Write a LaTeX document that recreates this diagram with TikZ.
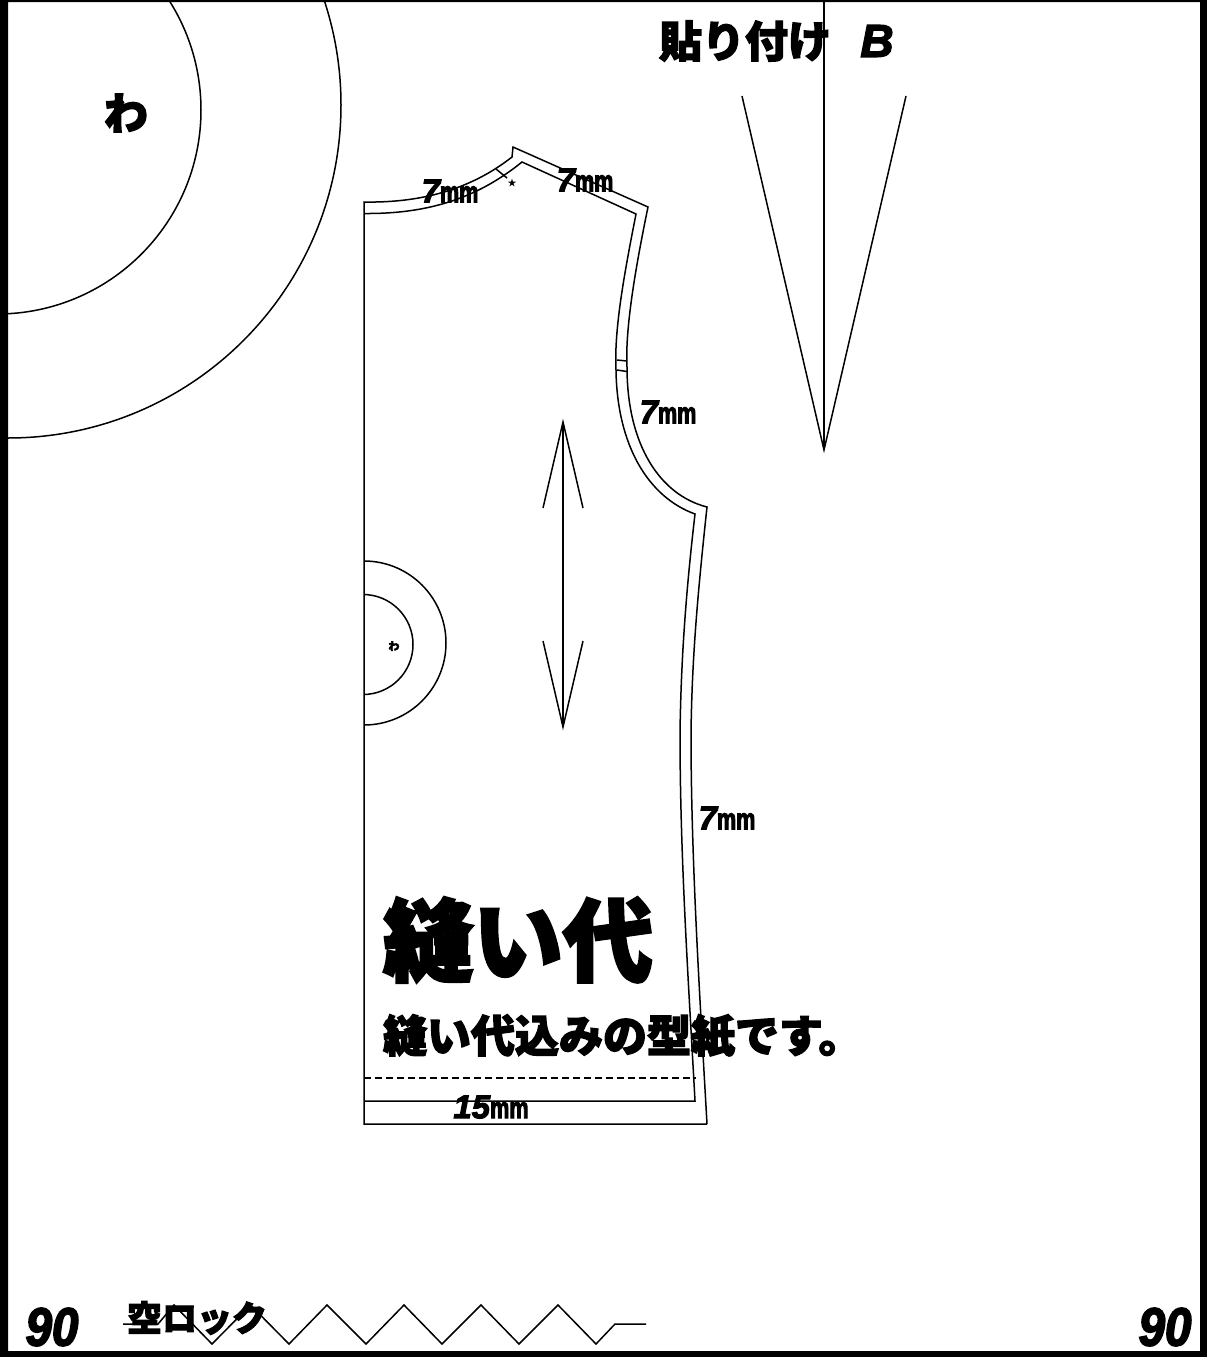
\documentclass[tikz,border=0pt]{standalone}
\usepackage{fontspec}
\newfontfamily\cjk[BoldFeatures={FakeBold=3}]{Noto Sans CJK JP}
\newfontfamily\cjkplain{Noto Sans CJK JP}
\newfontfamily\numfont[BoldItalicFeatures={FakeBold=3}]{Liberation Sans}
\newfontfamily\bigfont[BoldItalicFeatures={FakeBold=3,FakeStretch=0.88}]{Liberation Sans}
\newfontfamily\mmfont[BoldFeatures={FakeStretch=0.72,FakeBold=3}]{Liberation Sans}
\newcommand{\sevenmm}[1]{{\fontsize{33}{33}\selectfont\numfont\bfseries\itshape #1}{\fontsize{30}{30}\selectfont\mmfont\bfseries mm}}
\tikzset{
  cutline/.style={line width=1.5pt,line join=miter,black},
  labeltxt/.style={inner sep=0pt,outer sep=0pt,text=black},
  jp/.style={labeltxt,font=\cjk\bfseries}
}
\begin{document}
\begin{tikzpicture}[x=1pt,y=-1pt]
\useasboundingbox (0,0) rectangle (1207,1357);
\fill[white] (0,0) rectangle (1207,1357);
% large fold circles
\begin{scope}
\clip (8,0) rectangle (1200,1351);
\draw[cutline] (-3,110) circle[radius=204];
\draw[cutline] (8,105) circle[radius=333];
\end{scope}
% small fold circles
\begin{scope}
\clip (364,500) rectangle (500,800);
\draw[cutline] (364,643) circle[radius=82];
\draw[cutline] (363,644.5) circle[radius=50];
\end{scope}
% dart
\draw[cutline] (824,0) -- (824,450);
\draw[cutline] (742,96) -- (824,450) -- (906,96);
% grain arrow
\draw[cutline] (563,422) -- (563,727);
\draw[cutline] (543,508) -- (563,422) -- (583,508);
\draw[cutline] (543,641) -- (563,727) -- (583,641);
% pattern cut line
\draw[cutline] (707,1124) -- (364,1124) -- (364,202)
  .. controls (420,203) and (470,190) .. (512,157)
  -- (513,147) -- (648,207)
  .. controls (635,270) and (625,330) .. (627,367)
  .. controls (627,445) and (660,495) .. (707,507)
  .. controls (697,600) and (692,660) .. (691,733)
  .. controls (691,860) and (700,1000) .. (707,1124);
% pattern seam line
\draw[cutline] (364,213.5)
  .. controls (425,214) and (475,200) .. (522,162)
  -- (636,214)
  .. controls (624,275) and (614,330) .. (616,370)
  .. controls (617,445) and (648,497) .. (695,514)
  .. controls (685,600) and (681,665) .. (680,733)
  .. controls (680,860) and (689,990) .. (695,1101)
  -- (364,1101);
\draw[cutline,dash pattern=on 7pt off 4pt] (364,1078) -- (696,1078);
% notches
\draw[cutline] (496,169) -- (507,178);
\draw[cutline] (617,360) -- (627,361);
\draw[cutline] (617,370) -- (627,371.5);
% zigzag
\draw[cutline] (123,1324) -- (158,1324) -- (174,1305) -- (212,1344) -- (250.5,1305) -- (289,1344) -- (327,1305) -- (366,1344) -- (404,1305) -- (442,1344) -- (481,1305) -- (519,1344) -- (558,1305) -- (596,1344) -- (615,1324) -- (646,1324);
% texts
\node[jp,font=\cjk\bfseries\fontsize{44}{44}\selectfont] (wabig) at (126,113) {わ};
\node[jp,font=\cjk\bfseries\fontsize{11}{11}\selectfont] (wasmall) at (394,646) {わ};
\node[labeltxt,font=\cjkplain\fontsize{9}{9}\selectfont] (star) at (512,183) {★};
\node[jp,font=\cjk\bfseries\fontsize{43}{43}\selectfont] (paste) at (745,41) {貼り付け};
\node[labeltxt,font=\numfont\bfseries\itshape\fontsize{46}{46}\selectfont] (bmark) at (877,41) {B};
\node[labeltxt] (mma) at (450,191) {\sevenmm{7}};
\node[labeltxt] (mmb) at (585,180) {\sevenmm{7}};
\node[labeltxt] (mmc) at (668,412) {\sevenmm{7}};
\node[labeltxt] (mmd) at (727,818) {\sevenmm{7}};
\node[labeltxt] (mme) at (491,1107) {\sevenmm{15}};
\node[jp,font=\cjk\bfseries\fontsize{90}{90}\selectfont] (seam) at (518,940) {縫い代};
\node[jp,anchor=west,font=\cjk\bfseries\fontsize{44}{44}\selectfont] (seamsub) at (383,1036) {縫い代込みの型紙です。};
\node[jp,font=\cjk\bfseries\fontsize{35}{35}\selectfont] (lock) at (197,1318) {空ロック};
\node[labeltxt,font=\bigfont\bfseries\itshape\fontsize{54}{54}\selectfont] (numl) at (52,1327) {90};
\node[labeltxt,font=\bigfont\bfseries\itshape\fontsize{54}{54}\selectfont] (numr) at (1165,1327) {90};
% frame
\fill[black,even odd rule] (0,0) rectangle (1207,1357) (8,2) rectangle (1200,1351);
\end{tikzpicture}
\end{document}
